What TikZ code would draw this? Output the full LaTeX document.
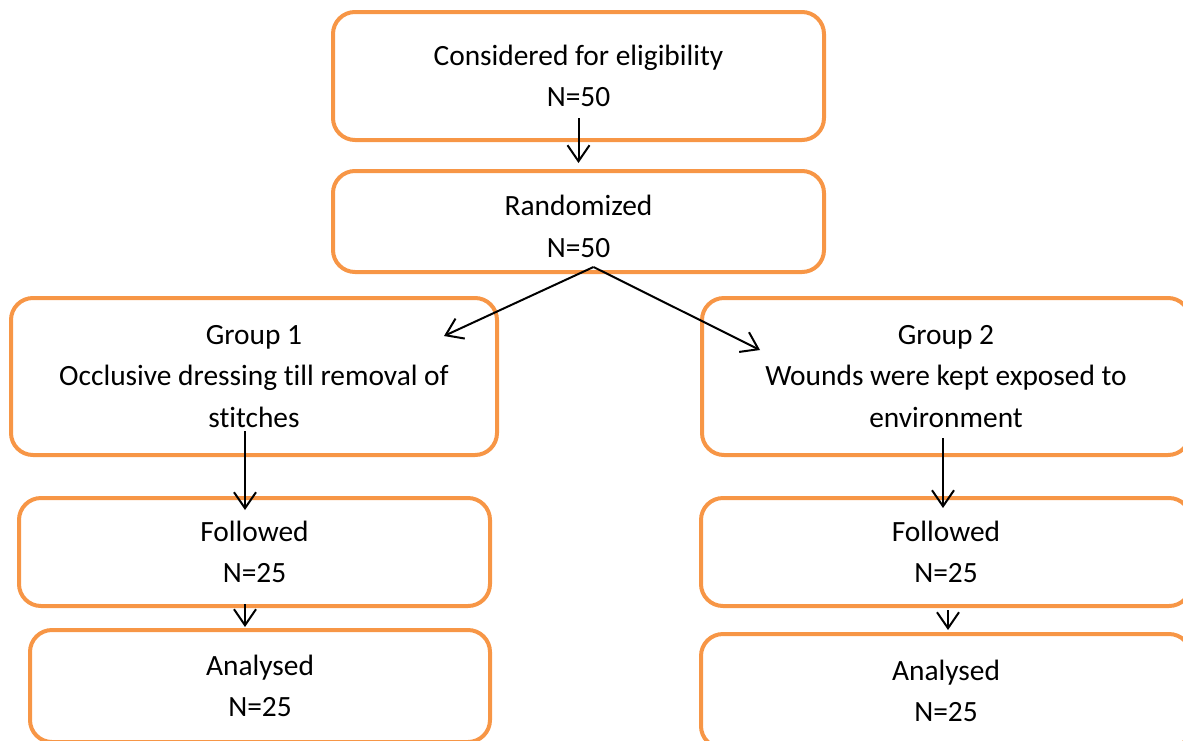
\documentclass[tikz,border=0pt]{standalone}
\usepackage{fontspec}
\setmainfont{Carlito}[Ligatures=NoCommon]
\usetikzlibrary{arrows.meta, positioning}
\definecolor{boxorange}{RGB}{247,150,70}
\tikzset{
	every node/.style={
		align=center,
	},
	stage/.style={draw=boxorange, line width=2pt, rounded corners=11pt, inner sep=0pt, outer sep=0pt, font=\fontsize{14.7}{20.8}\selectfont},
	flow/.style={line width=1pt, -{Straight Barb[length=8pt,width=11pt]}},
}
\newcommand{\lowered}[1]{\vphantom{#1}\smash{\raisebox{-2.5pt}{#1}}}

\begin{document}
\begin{tikzpicture}[x=0.5pt, y=-0.5pt]
    \useasboundingbox (0,0) rectangle (1183,740);
    \clip (0,0) rectangle (1183,740);

    \node (el) [stage, minimum width=245.5pt, minimum height=64pt] at (578.5,76) {Considered for eligibility\\N=50};
    \node (ra) [stage, minimum width=245.5pt, minimum height=50.5pt] at (578.5,221.5) {\lowered{Randomized}\\\lowered{N=50}};

    \node (ga) [stage, minimum width=243pt, minimum height=78.5pt] at (254,376.5) {Group 1\\Occlusive dressing till removal of\\stitches};
    \node (fa) [stage, minimum width=235.5pt, minimum height=54pt] at (254.5,552) {Followed\\N=25};
    \node (aa) [stage, minimum width=230pt, minimum height=56pt] at (260,686) {Analysed\\N=25};

    \node (gb) [stage, minimum width=244pt, minimum height=78.5pt] at (946,376.5) {Group 2\\Wounds were kept exposed to\\environment};
    \node (fb) [stage, minimum width=245pt, minimum height=54pt] at (946,552) {Followed\\N=25};
    \node (ab) [stage, minimum width=245pt, minimum height=57pt] at (946,691) {Analysed\\N=25};

    \draw [flow] ([yshift=11pt]el.south) -- ([yshift=4pt]ra.north);
    \draw [flow] ([xshift=7.5pt,yshift=2.5pt]ra.south) -- ([xshift=-26.5pt,yshift=-19pt]ga.north east);
    \draw [flow] ([xshift=7.5pt,yshift=2.5pt]ra.south) -- ([xshift=29pt,yshift=-26pt]gb.north west);

    \draw [flow] ([xshift=-4.5pt,yshift=12pt]ga.south) -- ([xshift=-4.75pt,yshift=-6pt]fa.north);
    \draw [flow] ([xshift=-4.75pt,yshift=1pt]fa.south) -- ([xshift=-7.5pt,yshift=1.5pt]aa.north);

    \draw [flow] ([xshift=-1.5pt,yshift=8.5pt]gb.south) -- ([xshift=-1.5pt,yshift=-5pt]fb.north);
    \draw [flow] ([xshift=1pt,yshift=-2pt]fb.south) -- ([xshift=1pt,yshift=2pt]ab.north);

\end{tikzpicture}
\end{document}
